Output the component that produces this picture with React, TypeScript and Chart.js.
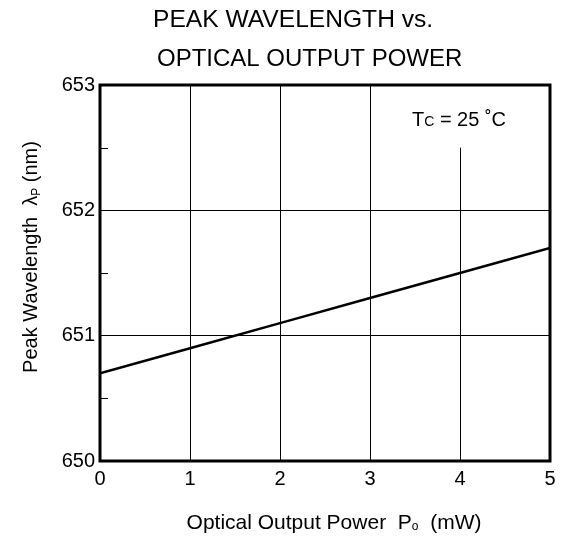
import { useEffect, useRef } from "react";
import { Chart, registerables } from "chart.js";
Chart.register(...registerables);

const powerMW = [0, 1, 2, 3, 4, 5];
const peakWavelengthNm = [650.7, 650.9, 651.1, 651.3, 651.5, 651.7];
const titleLines = ["PEAK WAVELENGTH vs.", "OPTICAL OUTPUT POWER"];
const minorYTicks = [650.5, 651.5, 652.5];
const yMin = 650;
const yMax = 653;
const xMin = 0;
const xMax = 5;
const FONT = '"Liberation Sans", Arial, Helvetica, sans-serif';

type Part = { t: string; size: number; dy?: number };

function drawParts(ctx: CanvasRenderingContext2D, parts: Part[], x: number, y: number, align: "left" | "center") {
  let total = 0;
  for (const p of parts) {
    ctx.font = `${p.size}px ${FONT}`;
    total += ctx.measureText(p.t).width;
  }
  let cx = align === "center" ? x - total / 2 : x;
  ctx.textAlign = "left";
  ctx.textBaseline = "alphabetic";
  for (const p of parts) {
    ctx.font = `${p.size}px ${FONT}`;
    ctx.fillText(p.t, cx, y + (p.dy || 0));
    cx += ctx.measureText(p.t).width;
  }
}

const decorPlugin = {
  id: "decor",
  afterDraw(chart: any) {
    const { ctx, chartArea, scales } = chart;
    const { left, right, top, bottom } = chartArea;
    const xs = scales.x;
    const ys = scales.y;
    ctx.save();
    ctx.strokeStyle = "#000";
    ctx.fillStyle = "#000";
    // partial gridline at x = 4 (below annotation)
    ctx.lineWidth = 1;
    const x4 = Math.round(xs.getPixelForValue(4)) + 0.5;
    ctx.beginPath();
    ctx.moveTo(x4, ys.getPixelForValue(652.5));
    ctx.lineTo(x4, bottom);
    ctx.stroke();
    // minor inward ticks on left axis
    for (const v of minorYTicks) {
      const py = Math.round(ys.getPixelForValue(v)) + 0.5;
      ctx.beginPath();
      ctx.moveTo(left, py);
      ctx.lineTo(left + 8, py);
      ctx.stroke();
    }
    // frame
    ctx.lineWidth = 3;
    ctx.strokeRect(left, top, right - left, bottom - top);
    // title
    ctx.textAlign = "left";
    ctx.textBaseline = "alphabetic";
    ctx.font = `24.6px ${FONT}`;
    ctx.fillText(titleLines[0], 153, 27);
    ctx.font = `24px ${FONT}`;
    ctx.fillText(titleLines[1], 157, 66);
    // annotation
    drawParts(
      ctx,
      [
        { t: "T", size: 20 },
        { t: "C", size: 14 },
        { t: " = 25 ˚C", size: 20 },
      ],
      412,
      126,
      "left"
    );
    // x axis title
    drawParts(
      ctx,
      [
        { t: "Optical Output Power  P", size: 21 },
        { t: "o", size: 12, dy: 1 },
        { t: "  (mW)", size: 21 },
      ],
      334,
      529,
      "center"
    );
    // y axis title
    ctx.translate(37, 257);
    ctx.rotate(-Math.PI / 2);
    drawParts(
      ctx,
      [
        { t: "Peak Wavelength  λ", size: 20 },
        { t: "P", size: 12, dy: 3 },
        { t: " (nm)", size: 20 },
      ],
      0,
      0,
      "center"
    );
    ctx.restore();
  },
};

export default function App() {
  const ref = useRef<HTMLCanvasElement | null>(null);
  useEffect(() => {
    if (!ref.current) return;
    const chart = new Chart(ref.current, {
      type: "line",
      data: {
        datasets: [
          {
            data: powerMW.map((p, i) => ({ x: p, y: peakWavelengthNm[i] })),
            borderColor: "#000",
            borderWidth: 2.5,
            pointRadius: 0,
            tension: 0,
            fill: false,
          },
        ],
      },
      options: {
        animation: false,
        responsive: false,
        events: [],
        layout: { padding: { left: 0, top: 85, right: 16, bottom: 0 } },
        plugins: {
          legend: { display: false },
          tooltip: { enabled: false },
          title: { display: false },
        },
        scales: {
          x: {
            type: "linear",
            min: xMin,
            max: xMax,
            afterFit: (s: any) => {
              s.height = 82;
            },
            border: { display: false },
            grid: {
              drawTicks: false,
              color: (c: any) => (c.tick && (c.tick.value === 4 || c.tick.value === 0 || c.tick.value === 5) ? "rgba(0,0,0,0)" : "#000"),
              lineWidth: 1,
            },
            ticks: {
              stepSize: 1,
              autoSkip: false,
              padding: 6,
              color: "#000",
              font: { family: FONT, size: 20 },
            },
          },
          y: {
            type: "linear",
            min: yMin,
            max: yMax,
            afterFit: (s: any) => {
              s.width = 100;
            },
            border: { display: false },
            grid: {
              drawTicks: false,
              color: (c: any) => {
                const v = c.tick ? c.tick.value : 0;
                return Number.isInteger(v) && v !== yMin && v !== yMax ? "#000" : "rgba(0,0,0,0)";
              },
              lineWidth: 1,
            },
            ticks: {
              stepSize: 0.5,
              autoSkip: false,
              padding: 5,
              color: "#000",
              font: { family: FONT, size: 20 },
              callback: (v: any) => (Number.isInteger(Number(v)) ? String(v) : ""),
            },
          },
        },
      },
      plugins: [decorPlugin],
    });
    return () => chart.destroy();
  }, []);
  return (
    <div style={{ position: "fixed", left: 0, top: 0, width: 566, height: 543, background: "#fff" }}>
      <canvas ref={ref} width={566} height={543} style={{ width: 566, height: 543, display: "block" }} />
    </div>
  );
}
